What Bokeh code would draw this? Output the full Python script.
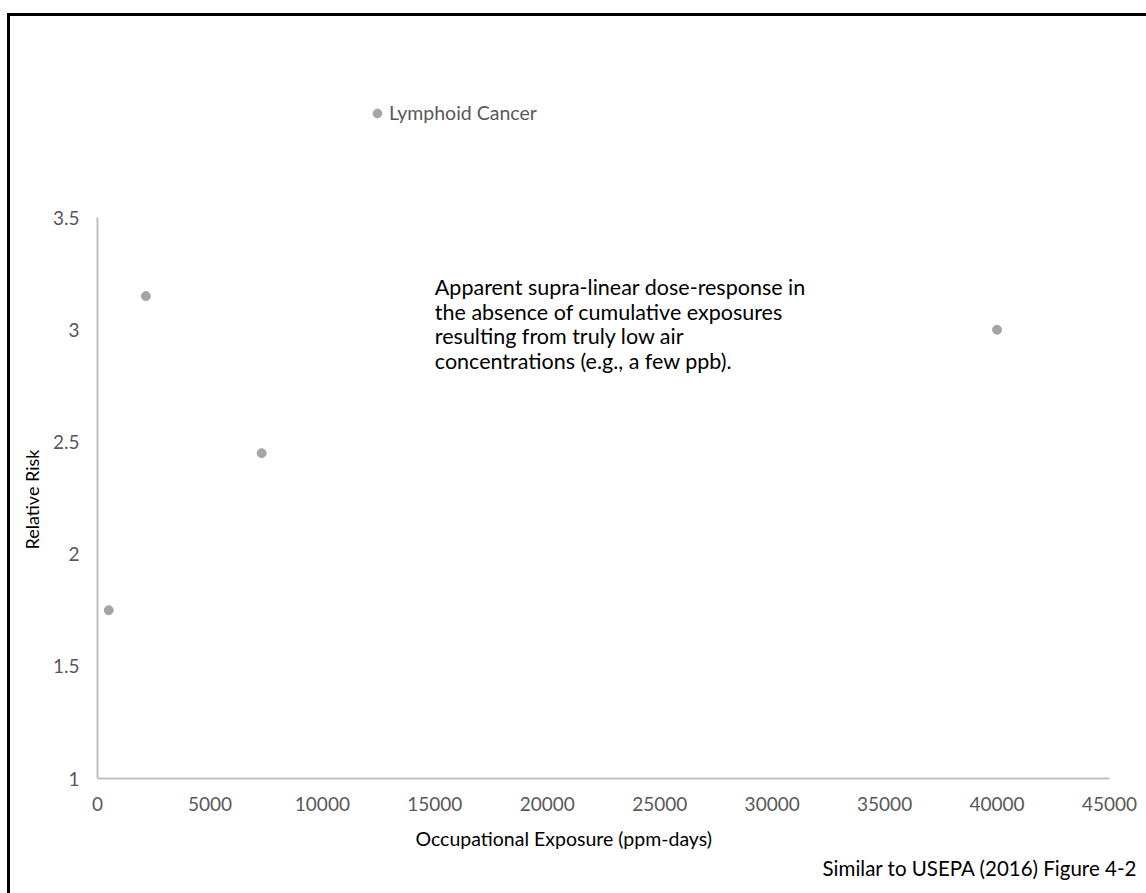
from bokeh.plotting import figure
from bokeh.models import (ColumnDataSource, FixedTicker, Label, Legend, LegendItem,
                          Range1d, Title)
from bokeh.embed import file_html
from bokeh.resources import INLINE

# ---- data ----
series_name = "Lymphoid Cancer"
exposure = [500, 2150, 7300, 40000]          # ppm-days
relative_risk = [1.75, 3.15, 2.45, 3.0]

x_ticks = [0, 5000, 10000, 15000, 20000, 25000, 30000, 35000, 40000, 45000]
y_ticks = [1, 1.5, 2, 2.5, 3, 3.5]
y_tick_labels = ["1", "1.5", "2", "2.5", "3", "3.5"]

x_title = "Occupational Exposure (ppm-days)"
y_title = "Relative Risk"
note_text = ("Apparent supra-linear dose-response in\n"
             "the absence of cumulative exposures\n"
             "resulting from truly low air\n"
             "concentrations (e.g., a few ppb).")
footer_text = "Similar to USEPA (2016) Figure 4-2"

FONT = "Lato"
TICK_COLOR = "#595959"
AXIS_COLOR = "#bfbfbf"
MARKER_COLOR = "#a5a5a5"

W, H = 1146, 893
Y_AXIS_MIN, Y_AXIS_MAX = 1, 3.5       # drawn extent of the value axis
Y_VIEW_MAX = 4.2                      # extra head-room above the axis for the legend

p = figure(width=W, height=H, output_backend="svg", toolbar_location=None,
           x_range=Range1d(0, 45000), y_range=Range1d(Y_AXIS_MIN, Y_VIEW_MAX),
           min_border_left=97, min_border_right=37,
           min_border_top=60, min_border_bottom=115)
p.background_fill_color = "white"
p.border_fill_color = None
p.outline_line_color = None
p.grid.visible = False
# outer chart border (left and top edges visible, as in the reference)
p.styles = {"background-color": "white",
            "box-shadow": "inset 7px 13px 0 0 white, inset 10px 16px 0 0 black"}

src = ColumnDataSource(dict(x=exposure, y=relative_risk))
r = p.scatter("x", "y", source=src, size=9, fill_color=MARKER_COLOR,
              line_color=MARKER_COLOR)

for ax in (p.xaxis[0], p.yaxis[0]):
    ax.axis_line_color = AXIS_COLOR
    ax.axis_line_width = 2
    ax.major_tick_line_color = None
    ax.minor_tick_line_color = None
    ax.major_label_text_color = TICK_COLOR
    ax.major_label_text_font = FONT
    ax.major_label_text_font_size = "19px"

p.yaxis.bounds = (Y_AXIS_MIN, Y_AXIS_MAX)
p.yaxis.major_label_standoff = 12
p.xaxis.major_label_standoff = 12

p.xaxis.ticker = FixedTicker(ticks=x_ticks)
p.yaxis.ticker = FixedTicker(ticks=y_ticks)
p.yaxis.major_label_overrides = {float(t): l for t, l in zip(y_ticks, y_tick_labels)}

# y-axis title, centred on the drawn value axis
p.add_layout(Title(text=y_title, align="left", offset=229, text_font=FONT,
                   text_font_size="18px", text_font_style="normal",
                   text_color="black", standoff=14), "left")

# x-axis title (sits a little left of the axis centre in the reference)
p.add_layout(Title(text=x_title, align="left", offset=318, text_font=FONT,
                   text_font_size="19.5px", text_font_style="normal",
                   text_color="black", standoff=22), "below")

# footer
p.add_layout(Title(text=footer_text, align="right", offset=-28, text_font=FONT,
                   text_font_size="20.5px", text_font_style="normal",
                   text_color="black", standoff=-13), "below")

# annotation note
p.add_layout(Label(x=15000, y=3.247, text=note_text, text_font=FONT,
                   text_font_size="21.5px", text_color="black",
                   text_align="left", text_baseline="top", text_line_height=0.94))

# legend above the value axis
legend = Legend(items=[LegendItem(label=series_name, renderers=[r])],
                location=(269, 654), padding=0, margin=0, glyph_width=22,
                glyph_height=22, label_standoff=1, border_line_color=None,
                background_fill_alpha=0, label_text_font=FONT,
                label_text_font_size="19.5px", label_text_color=TICK_COLOR)
p.add_layout(legend, "center")

open("out.html", "w").write(file_html(p, INLINE))
